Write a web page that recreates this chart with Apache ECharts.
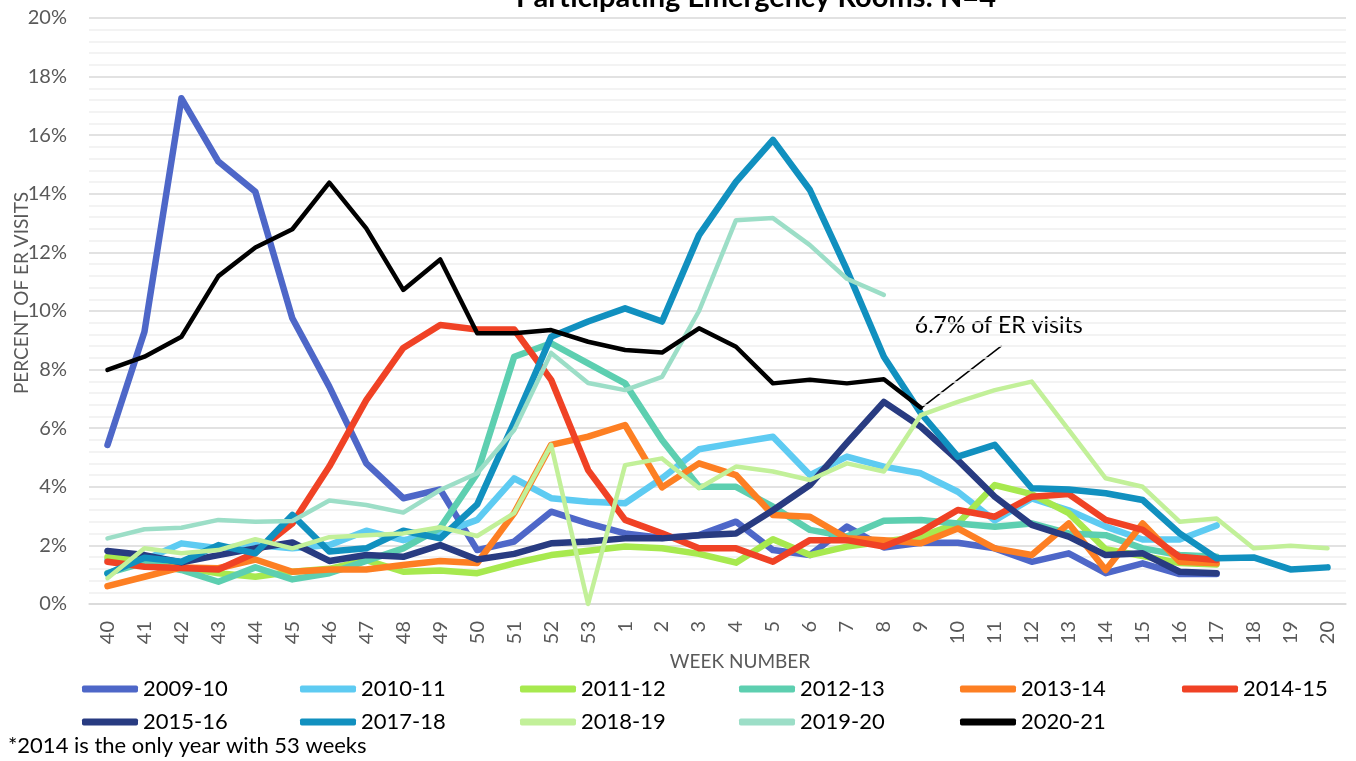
<!DOCTYPE html>
<html>
<head>
<meta charset="utf-8">
<script src="https://cdn.jsdelivr.net/npm/echarts@6/dist/echarts.min.js"></script>
<style>
  html, body { margin: 0; padding: 0; background: #fff; }
  #chart { width: 1356px; height: 761px; }
</style>
</head>
<body>
<div id="chart"></div>
<script>
const weeks = ['40','41','42','43','44','45','46','47','48','49','50','51','52','53',
  '1','2','3','4','5','6','7','8','9','10','11','12','13','14','15','16','17','18','19','20'];

const s2009_10 = [5.43, 9.29, 17.26, 15.1, 14.07, 9.75, 7.42, 4.8, 3.61, 3.91, 1.84, 2.13, 3.15, 2.75, 2.41, 2.25, 2.35, 2.81, 1.84, 1.67, 2.64, 1.93, 2.09, 2.09, 1.9, 1.44, 1.73, 1.05, 1.39, 1.02, 1.02];
const s2010_11 = [1.5, 1.5, 2.07, 1.9, 2.01, 1.9, 2.01, 2.5, 2.18, 2.41, 2.87, 4.29, 3.61, 3.49, 3.44, 4.29, 5.28, 5.5, 5.71, 4.4, 5.03, 4.69, 4.46, 3.83, 2.85, 3.6, 3.2, 2.64, 2.2, 2.2, 2.68];
const s2011_12 = [1.6, 1.5, 1.25, 1.05, 0.93, 1.1, 1.2, 1.5, 1.1, 1.14, 1.05, 1.39, 1.67, 1.82, 1.96, 1.9, 1.71, 1.41, 2.21, 1.67, 1.96, 2.13, 2.3, 2.75, 4.06, 3.75, 3.1, 1.87, 1.64, 1.4, 1.35];
const s2012_13 = [1.05, 1.41, 1.16, 0.76, 1.25, 0.84, 1.05, 1.47, 1.9, 2.6, 4.46, 8.44, 8.9, 8.21, 7.53, 5.6, 4.0, 4.0, 3.32, 2.53, 2.3, 2.84, 2.87, 2.75, 2.64, 2.75, 2.41, 2.35, 1.9, 1.67, 1.61];
const s2013_14 = [0.61, 0.93, 1.25, 1.22, 1.52, 1.1, 1.18, 1.18, 1.33, 1.47, 1.4, 3.1, 5.43, 5.71, 6.11, 3.98, 4.8, 4.4, 3.04, 2.98, 2.24, 2.18, 2.07, 2.58, 1.9, 1.67, 2.75, 1.16, 2.75, 1.44, 1.39];
const s2014_15 = [1.44, 1.27, 1.23, 1.18, 1.75, 2.75, 4.69, 6.96, 8.74, 9.52, 9.37, 9.37, 7.65, 4.57, 2.87, 2.41, 1.9, 1.9, 1.44, 2.18, 2.18, 1.96, 2.47, 3.21, 2.98, 3.66, 3.75, 2.87, 2.53, 1.61, 1.5];
const s2015_16 = [1.81, 1.67, 1.42, 1.67, 1.9, 2.1, 1.47, 1.67, 1.61, 2.01, 1.52, 1.71, 2.07, 2.13, 2.24, 2.24, 2.35, 2.41, 3.2, 4.06, 5.5, 6.9, 6.05, 4.91, 3.66, 2.7, 2.3, 1.67, 1.73, 1.1, 1.05];
const s2017_18 = [1.03, 1.58, 1.44, 2.01, 1.73, 3.04, 1.79, 1.9, 2.5, 2.24, 3.4, 6.2, 9.12, 9.64, 10.09, 9.64, 12.59, 14.41, 15.84, 14.13, 11.4, 8.44, 6.51, 5.03, 5.43, 3.95, 3.91, 3.78, 3.55, 2.41, 1.56, 1.59, 1.18, 1.25];
const s2018_19 = [0.88, 1.9, 1.73, 1.84, 2.21, 1.9, 2.28, 2.35, 2.41, 2.62, 2.32, 3.1, 5.43, 0, 4.74, 4.97, 3.95, 4.69, 4.52, 4.23, 4.8, 4.52, 6.45, 6.9, 7.3, 7.59, 5.94, 4.29, 4.0, 2.81, 2.92, 1.9, 1.99, 1.9];
const s2019_20 = [2.24, 2.55, 2.6, 2.87, 2.81, 2.83, 3.53, 3.38, 3.12, 3.89, 4.46, 5.94, 8.57, 7.54, 7.3, 7.75, 10.0, 13.1, 13.17, 12.25, 11.1, 10.55];
const s2020_21 = [7.99, 8.44, 9.12, 11.19, 12.17, 12.79, 14.38, 12.82, 10.72, 11.76, 9.24, 9.24, 9.35, 8.95, 8.67, 8.58, 9.41, 8.78, 7.53, 7.65, 7.53, 7.67, 6.7];

const seasonNames = ['2009-10','2010-11','2011-12','2012-13','2013-14','2014-15','2015-16','2017-18','2018-19','2019-20','2020-21'];
const seasonData = [s2009_10, s2010_11, s2011_12, s2012_13, s2013_14, s2014_15, s2015_16, s2017_18, s2018_19, s2019_20, s2020_21];
const seasonColors = ['#4e67c8','#5ecbf2','#a7e94f','#5dcfb0','#fd7f23','#f04225','#283b81','#1190bf','#c2f099','#9cdec7','#000000'];
const seasonWidths = [6.5, 6.5, 6.5, 6.5, 6.5, 6.5, 6.5, 6.5, 4.5, 4.5, 4.5];

const legendColumns = [
  ['2009-10','2015-16'], ['2010-11','2017-18'], ['2011-12','2018-19'],
  ['2012-13','2019-20'], ['2013-14','2020-21'], ['2014-15']
];
const legendLefts = [82, 300, 520, 739, 960, 1182];

const FONT = 'Lato, "Liberation Sans", sans-serif';
const chart = echarts.init(document.getElementById('chart'), null, {renderer: 'canvas'});

const series = seasonNames.map((name, i) => ({
  name: name,
  type: 'line',
  data: seasonData[i],
  symbol: 'none',
  showSymbol: false,
  color: seasonColors[i],
  lineStyle: { width: seasonWidths[i], color: seasonColors[i], cap: 'round', join: 'round' },
  itemStyle: { color: seasonColors[i] },
  emphasis: { disabled: true },
  animation: false,
  clip: false
}));

const baseGraphic = [
  { type: 'text', style: { text: 'Participating Emergency Rooms: N=4', x: 756, y: 12, align: 'center', verticalAlign: 'bottom', fill: '#000', font: 'bold 29px ' + FONT }, silent: true },
  { type: 'text', style: { text: 'WEEK NUMBER', x: 740, y: 662, align: 'center', verticalAlign: 'middle', fill: '#595959', font: '19px ' + FONT }, silent: true },
  { type: 'text', x: 22, y: 293, rotation: Math.PI / 2, style: { text: 'PERCENT OF ER VISITS', x: 0, y: 0, align: 'center', verticalAlign: 'middle', fill: '#595959', font: '19px ' + FONT }, silent: true },
  { type: 'text', style: { text: '*2014 is the only year with 53 weeks', x: 8, y: 746, align: 'left', verticalAlign: 'middle', fill: '#000', font: '22px ' + FONT }, silent: true }
];

const option = {
  animation: false,
  backgroundColor: '#ffffff',
  grid: { left: 89, right: 10, top: 18, bottom: 157, containLabel: false },
  xAxis: {
    type: 'category',
    data: weeks,
    boundaryGap: true,
    axisLine: { show: true, lineStyle: { color: '#d9d9d9', width: 1.5 } },
    axisTick: { show: false },
    axisLabel: { interval: 0, rotate: 90, margin: 17, color: '#595959', fontSize: 20, fontFamily: FONT },
    splitLine: { show: false }
  },
  yAxis: {
    type: 'value',
    min: 0, max: 20, interval: 2,
    axisLine: { show: false },
    axisTick: { show: false },
    axisLabel: { formatter: '{value}%', color: '#595959', fontSize: 20, fontFamily: FONT, margin: 22 },
    splitLine: { show: true, lineStyle: { color: '#d9d9d9', width: 1.5 } },
    minorTick: { show: false, splitNumber: 5 },
    minorSplitLine: { show: true, lineStyle: { color: '#f0f0f0', width: 1.5 } }
  },
  legend: legendColumns.map((names, i) => ({
    data: names,
    orient: 'vertical',
    left: legendLefts[i],
    top: 678,
    padding: 0,
    itemWidth: 56,
    itemHeight: 7,
    itemGap: 11,
    icon: 'roundRect',
    selectedMode: false,
    textStyle: { color: '#000', fontSize: 22, fontFamily: FONT, lineHeight: 22 }
  })),
  series: series,
  graphic: baseGraphic
};
chart.setOption(option);

// Annotation anchored to the 2020-21 value at week 9
const annIdx = weeks.indexOf('9');
const p = chart.convertToPixel({ seriesIndex: 10 }, [annIdx, s2020_21[annIdx]]);
chart.setOption({
  graphic: baseGraphic.concat([
    { type: 'line', shape: { x1: p[0] + 1, y1: p[1], x2: p[0] + 81, y2: p[1] - 62 }, style: { stroke: '#000', lineWidth: 1.5 }, silent: true },
    { type: 'text', style: { text: '6.7% of ER visits', x: p[0] - 6, y: p[1] - 82, align: 'left', verticalAlign: 'middle', fill: '#000', font: '23px ' + FONT }, silent: true }
  ])
});
</script>
</body>
</html>
